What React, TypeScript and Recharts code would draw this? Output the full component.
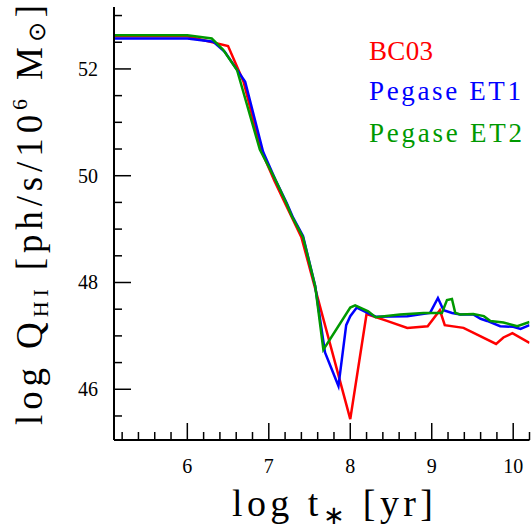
import React from "react";
import { LineChart, Line, XAxis, YAxis, Label, Legend } from "recharts";

// log age [yr] and log Q(HI)
const bc03Age = [5.1, 6.0, 6.5, 6.69, 6.9, 7.07, 7.21, 7.4, 8.0, 8.2, 8.45, 8.7, 8.95, 9.1, 9.16, 9.39, 9.79, 9.88, 9.99, 10.2];
const bc03Q = [52.61, 52.61, 52.43, 51.76, 50.5, 49.9, 49.45, 48.85, 45.44, 47.41, 47.28, 47.15, 47.18, 47.48, 47.2, 47.15, 46.85, 46.97, 47.05, 46.87];

const et1Age = [5.1, 6.0, 6.32, 6.46, 6.71, 6.93, 7.08, 7.22, 7.3, 7.42, 7.57, 7.69, 7.855, 7.95, 8.0, 8.08, 8.31, 8.7, 8.98, 9.076, 9.145, 9.25, 9.35, 9.51, 9.6, 9.68, 9.84, 10.0, 10.09, 10.2];
const et1Q = [52.57, 52.57, 52.51, 52.32, 51.76, 50.45, 49.93, 49.49, 49.21, 48.87, 47.93, 46.69, 46.06, 47.2, 47.37, 47.53, 47.36, 47.37, 47.43, 47.71, 47.48, 47.43, 47.4, 47.4, 47.32, 47.28, 47.18, 47.17, 47.13, 47.2];

const et2Age = [5.1, 6.0, 6.3, 6.44, 6.61, 6.89, 7.08, 7.22, 7.28, 7.42, 7.51, 7.57, 7.67, 8.0, 8.06, 8.22, 8.31, 8.61, 8.9, 9.125, 9.187, 9.248, 9.289, 9.35, 9.51, 9.64, 9.72, 9.88, 10.05, 10.2];
const et2Q = [52.63, 52.63, 52.57, 52.36, 51.98, 50.49, 49.93, 49.47, 49.25, 48.85, 48.3, 47.93, 46.74, 47.53, 47.57, 47.46, 47.35, 47.4, 47.43, 47.43, 47.67, 47.69, 47.43, 47.4, 47.41, 47.37, 47.28, 47.25, 47.18, 47.26];

const xTicks = [5.2, 5.4, 5.6, 5.8, 6, 6.2, 6.4, 6.6, 6.8, 7, 7.2, 7.4, 7.6, 7.8, 8, 8.2, 8.4, 8.6, 8.8, 9, 9.2, 9.4, 9.6, 9.8, 10, 10.2];
const yTicks = [45.5, 46, 46.5, 47, 47.5, 48, 48.5, 49, 49.5, 50, 50.5, 51, 51.5, 52, 52.5, 53];
const yLabelled = [46, 48, 50, 52];

const toPoints = (ages: number[], qs: number[]) => ages.map((age, i) => ({ age, q: qs[i] }));

const bc03 = toPoints(bc03Age, bc03Q);
const et1 = toPoints(et1Age, et1Q);
const et2 = toPoints(et2Age, et2Q);

const FONT = "Liberation Serif";

const isInt = (v: number) => Math.abs(v - Math.round(v)) < 1e-6;

const xTick = (side: "bottom" | "top") => (props: any) => {
  const { x, y, payload } = props;
  const v = payload.value as number;
  const major = isInt(v);
  const len = major ? 17 : 8;
  const dir = side === "bottom" ? -1 : 1;
  return (
    <g>
      <line x1={x} x2={x} y1={y} y2={y + dir * len} stroke="#000" strokeWidth={1.5} />
      {side === "bottom" && major && (
        <text x={x} y={y + 32.5} textAnchor="middle" fontFamily={FONT} fontSize={20} fill="#000">
          {v}
        </text>
      )}
    </g>
  );
};

const yTick = (side: "left" | "right") => (props: any) => {
  const { x, y, payload } = props;
  const v = payload.value as number;
  const major = yLabelled.includes(v);
  const len = major ? 17 : 8;
  const dir = side === "left" ? 1 : -1;
  return (
    <g>
      <line x1={x} x2={x + dir * len} y1={y} y2={y} stroke="#000" strokeWidth={1.5} />
      {side === "left" && major && (
        <text x={x - 16} y={y + 6.8} textAnchor="end" fontFamily={FONT} fontSize={20} fill="#000">
          {v}
        </text>
      )}
    </g>
  );
};

const XTitle = () => (
  <text x={232} y={515.5} fontFamily={FONT} fontSize={38} fill="#000" textLength={201} lengthAdjust="spacing">
    log t
    <tspan dy={8} fontSize={26}>∗</tspan>
    <tspan dy={-8}> [yr]</tspan>
  </text>
);

const YTitle = () => (
  <text
    transform="rotate(-90)"
    x={-425}
    y={41.5}
    fontFamily={FONT}
    fontSize={37}
    fill="#000"
    textLength={420}
    lengthAdjust="spacing"
  >
    log Q
    <tspan dy={6} fontSize={22}>HI</tspan>
    <tspan dy={-6}> [ph/s/10</tspan>
    <tspan dy={-15} fontSize={22}>6</tspan>
    <tspan dy={15}> M</tspan>
    <tspan dy={3} fontSize={24}>⊙</tspan>
    <tspan dy={-3}>]</tspan>
  </text>
);

const LegendText = () => (
  <svg width={531} height={160} style={{ display: "block" }}>
    <text x={369} y={60} fill="#ff0000" fontFamily={FONT} fontSize={27} textLength={64} lengthAdjust="spacing">
      BC03
    </text>
    <text x={369} y={100} fill="#0000ff" fontFamily={FONT} fontSize={27} textLength={152} lengthAdjust="spacing">
      Pegase ET1
    </text>
    <text x={369} y={141.5} fill="#009900" fontFamily={FONT} fontSize={27} textLength={153} lengthAdjust="spacing">
      Pegase ET2
    </text>
  </svg>
);

const axisLine = { stroke: "#000", strokeWidth: 2 };
const xDomain = [5.1, 10.2];
const yDomain = [45.05, 53.16];

export default function App() {
  return (
    <div style={{ position: "absolute", left: 0, top: 0, width: 531, height: 530, background: "#fff" }}>
      <LineChart width={531} height={530} margin={{ top: 7, right: 1.5, left: 0, bottom: 0 }}>
        <XAxis
          xAxisId="b"
          dataKey="age"
          type="number"
          domain={xDomain}
          allowDataOverflow
          ticks={xTicks}
          interval={0}
          height={90}
          tickSize={0}
          tickMargin={0}
          tickLine={false}
          axisLine={axisLine}
          tick={xTick("bottom")}
        >
          <Label content={XTitle} />
        </XAxis>
        <XAxis
          xAxisId="t"
          orientation="top"
          dataKey="age"
          type="number"
          domain={xDomain}
          allowDataOverflow
          ticks={xTicks}
          interval={0}
          height={0}
          tickSize={0}
          tickMargin={0}
          tickLine={false}
          axisLine={axisLine}
          tick={xTick("top")}
        />
        <YAxis
          yAxisId="l"
          type="number"
          domain={yDomain}
          allowDataOverflow
          ticks={yTicks}
          interval={0}
          width={114}
          tickSize={0}
          tickMargin={0}
          tickLine={false}
          axisLine={axisLine}
          tick={yTick("left")}
        >
          <Label content={YTitle} />
        </YAxis>
        <YAxis
          yAxisId="r"
          orientation="right"
          type="number"
          domain={yDomain}
          allowDataOverflow
          ticks={yTicks}
          interval={0}
          width={0}
          tickSize={0}
          tickMargin={0}
          tickLine={false}
          axisLine={axisLine}
          tick={yTick("right")}
        />
        <Legend
          layout="vertical"
          align="center"
          verticalAlign="middle"
          wrapperStyle={{ position: "absolute", left: 0, top: 0, width: 531, height: 160 }}
          content={LegendText}
        />
        <Line
          xAxisId="b"
          yAxisId="l"
          data={bc03}
          dataKey="q"
          name="BC03"
          stroke="#ff0000"
          strokeWidth={2.5}
          dot={false}
          isAnimationActive={false}
        />
        <Line
          xAxisId="b"
          yAxisId="l"
          data={et1}
          dataKey="q"
          name="Pegase ET1"
          stroke="#0000ff"
          strokeWidth={2.5}
          dot={false}
          isAnimationActive={false}
        />
        <Line
          xAxisId="b"
          yAxisId="l"
          data={et2}
          dataKey="q"
          name="Pegase ET2"
          stroke="#009900"
          strokeWidth={2.5}
          dot={false}
          isAnimationActive={false}
        />
      </LineChart>
    </div>
  );
}
